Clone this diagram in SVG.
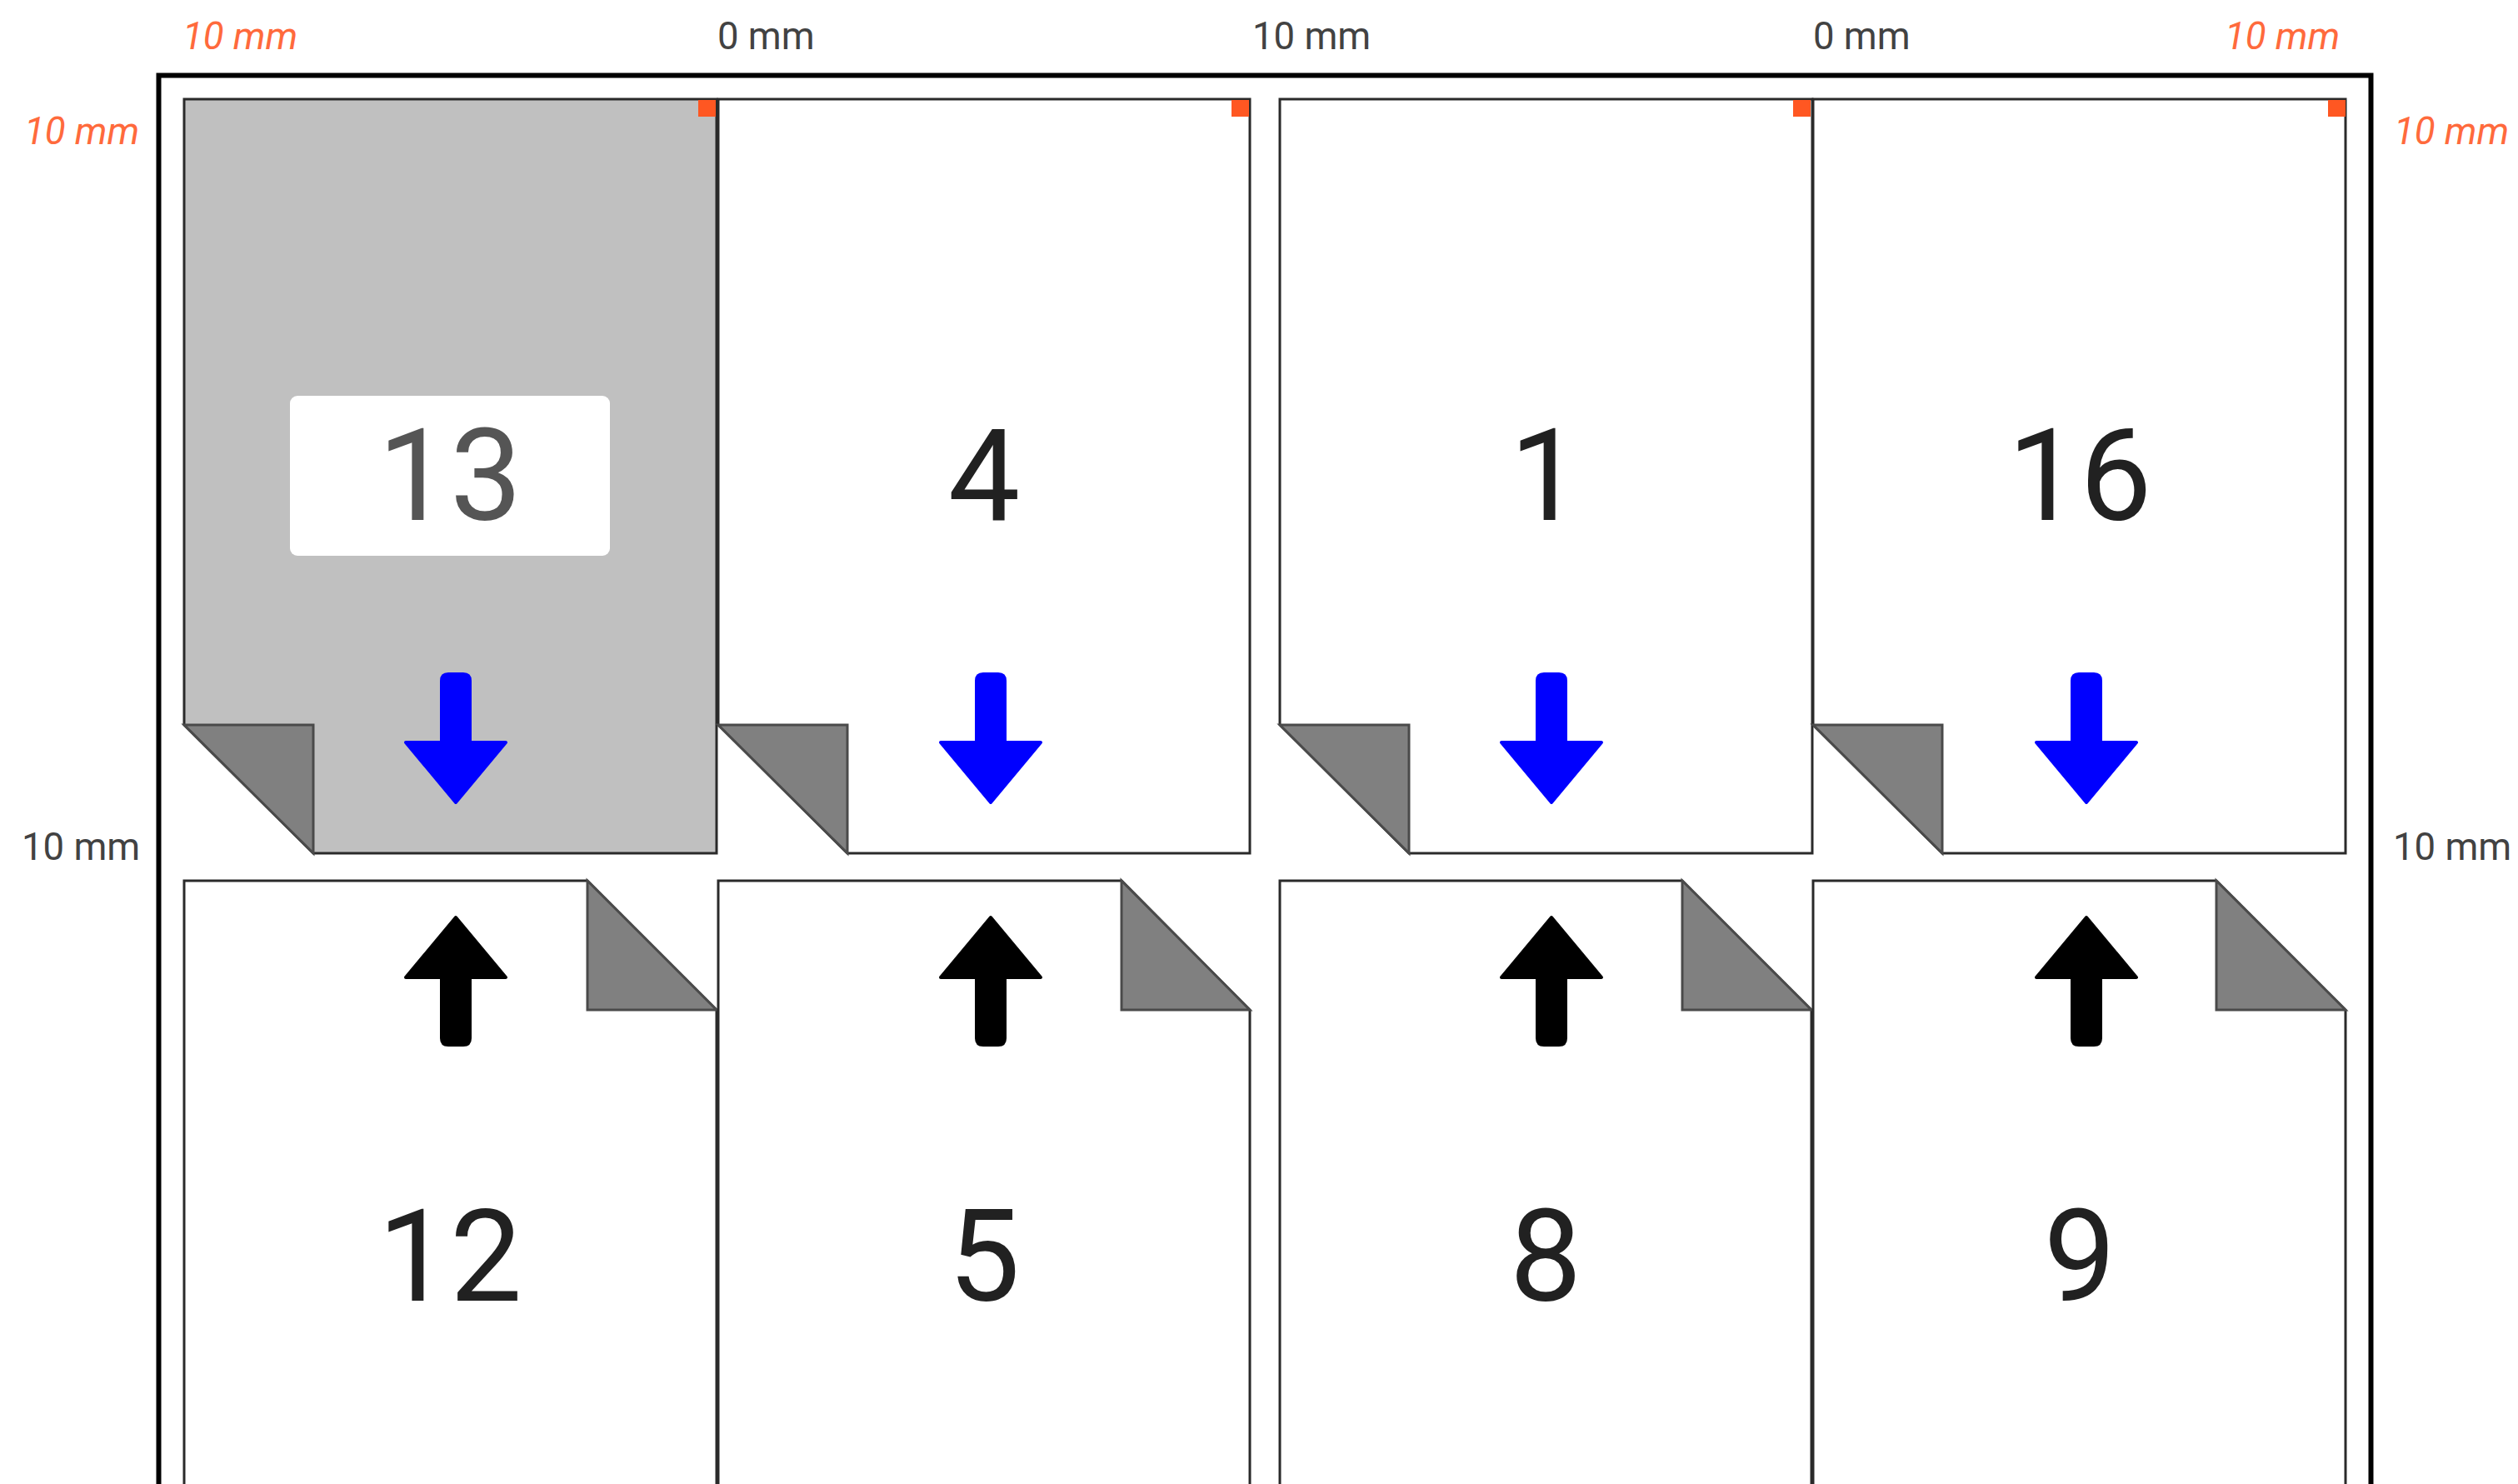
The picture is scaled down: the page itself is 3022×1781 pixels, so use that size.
<svg xmlns="http://www.w3.org/2000/svg" xmlns:xlink="http://www.w3.org/1999/xlink" width="3022" height="1781" viewBox="0 0 3022 1781">
<style>
text{font-family:Roboto,"Liberation Sans",sans-serif}
.dim{font-size:45.500px;fill:#424242}
.warn{font-size:45.500px;fill:#ff6a3c;font-style:italic}
.num{font-size:154px;fill:#212121;text-anchor:middle}
.page{fill:#fff;stroke:#2a2a2a;stroke-width:3}
.sel{fill:#c0c0c0}
.fold{fill:#808080;stroke:#4a4a4a;stroke-width:3;stroke-linejoin:miter}
.mark{fill:#ff5722}
.ad{fill:#00f;stroke:#00f;stroke-width:4;stroke-linejoin:round}
.au{fill:#000;stroke:#000;stroke-width:4;stroke-linejoin:round}
</style>
<defs>
<path id="down" d="M-17,-72 V2 H-60 L0,74 L60,2 H17 V-72 Q17,-80 9,-80 H-9 Q-17,-80 -17,-72 Z"/>
<path id="up" d="M-17,71 V-2 H-60 L0,-74 L60,-2 H17 V71 Q17,79 9,79 H-9 Q-17,79 -17,71 Z"/>
</defs>
<rect width="3022" height="1781" fill="#fff"/>
<g id="sheet"><rect x="190.500" y="90.500" width="2655" height="1720" fill="#fff" stroke="#000" stroke-width="6"/></g>
<g id="page-13">
<path class="page sel" d="M221,119H860V1024H376L221,870Z"/>
<path class="fold" d="M221,870H376V1024Z"/>
<rect class="mark" x="838" y="120" width="21" height="20"/>
<rect x="348" y="475" width="384" height="192" rx="9" fill="#fff"/>
<text class="num" x="540" y="624" style="fill:#555">13</text>
<use href="#down" x="547" y="889" class="ad"/>
</g>
<g id="page-4">
<path class="page" d="M862,119H1500V1024H1017L862,870Z"/>
<path class="fold" d="M862,870H1017V1024Z"/>
<rect class="mark" x="1478" y="120" width="21" height="20"/>
<text class="num" x="1181" y="624">4</text>
<use href="#down" x="1189" y="889" class="ad"/>
</g>
<g id="page-1">
<path class="page" d="M1536,119H2175V1024H1691L1536,870Z"/>
<path class="fold" d="M1536,870H1691V1024Z"/>
<rect class="mark" x="2152" y="120" width="21" height="20"/>
<text class="num" x="1855" y="624">1</text>
<use href="#down" x="1862" y="889" class="ad"/>
</g>
<g id="page-16">
<path class="page" d="M2176,119H2815V1024H2331L2176,870Z"/>
<path class="fold" d="M2176,870H2331V1024Z"/>
<rect class="mark" x="2794" y="120" width="21" height="20"/>
<text class="num" x="2496" y="624">16</text>
<use href="#down" x="2504" y="889" class="ad"/>
</g>
<g id="page-12">
<path class="page" d="M221,1057H705L860,1212V1800H221Z"/>
<path class="fold" d="M705,1057V1212H860Z"/>
<text class="num" x="540" y="1561">12</text>
<use href="#up" x="547" y="1175" class="au"/>
</g>
<g id="page-5">
<path class="page" d="M862,1057H1346L1500,1212V1800H862Z"/>
<path class="fold" d="M1346,1057V1212H1500Z"/>
<text class="num" x="1181" y="1561">5</text>
<use href="#up" x="1189" y="1175" class="au"/>
</g>
<g id="page-8">
<path class="page" d="M1536,1057H2019L2174,1212V1800H1536Z"/>
<path class="fold" d="M2019,1057V1212H2174Z"/>
<text class="num" x="1855" y="1561">8</text>
<use href="#up" x="1862" y="1175" class="au"/>
</g>
<g id="page-9">
<path class="page" d="M2176,1057H2660L2815,1212V1800H2176Z"/>
<path class="fold" d="M2660,1057V1212H2815Z"/>
<text class="num" x="2496" y="1561">9</text>
<use href="#up" x="2504" y="1175" class="au"/>
</g>
<g id="labels">
<text class="warn" x="219" y="59">10 mm</text>
<text class="dim" x="861" y="59">0 mm</text>
<text class="dim" x="1503" y="59">10 mm</text>
<text class="dim" x="2176" y="59">0 mm</text>
<text class="warn" x="2670" y="59">10 mm</text>
<text class="warn" x="29" y="173">10 mm</text>
<text class="warn" x="2873" y="173">10 mm</text>
<text class="dim" x="26" y="1032">10 mm</text>
<text class="dim" x="2872" y="1032">10 mm</text>
</g>
<g id="connectors"/>
</svg>
